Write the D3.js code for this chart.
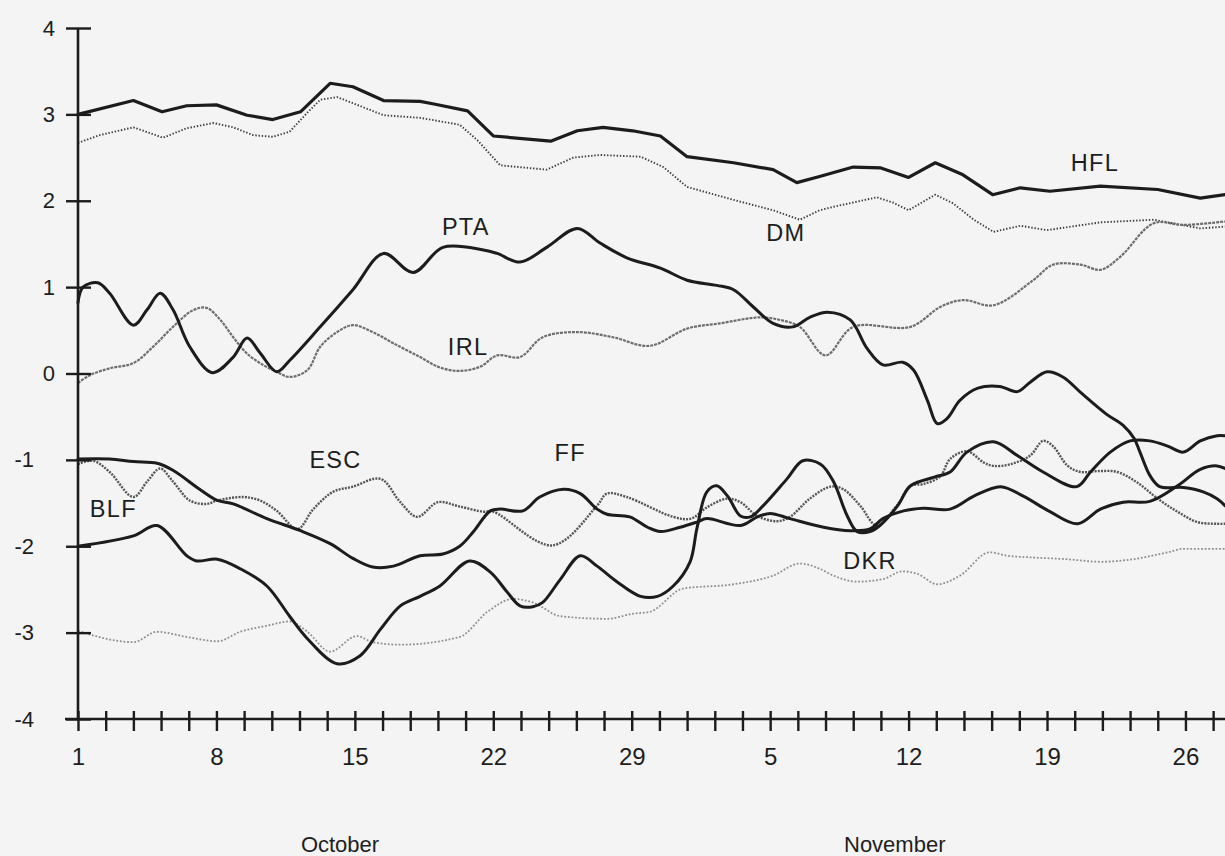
<!DOCTYPE html>
<html>
<head>
<meta charset="utf-8">
<script src="https://cdn.jsdelivr.net/npm/d3@7"></script>
<style>
  html, body { margin: 0; padding: 0; background: #f4f4f4; }
  svg { display: block; }
  text { font-family: "Liberation Sans", Arial, Helvetica, sans-serif; fill: #1e1e1e; }
</style>
</head>
<body>
<svg id="chart" width="1225" height="856"></svg>
<script>
// ---- data (day offset from October 1, index value) ----
const yTicks = [4, 3, 2, 1, 0, -1, -2, -3, -4];
const xLabelDays = [0, 7, 14, 21, 28, 35, 42, 49, 56];
const xLabels = ["1", "8", "15", "22", "29", "5", "12", "19", "26"];
const months = [{ name: "October", day: 13.25 }, { name: "November", day: 41.3 }];

const HFL = [[0,3.0],[2.8,3.16],[4.25,3.03],[5.5,3.10],[7.0,3.11],[8.55,2.99],[9.85,2.94],[11.25,3.03],[12.75,3.36],[13.9,3.32],[15.45,3.16],[17.3,3.15],[18.0,3.12],[19.7,3.04],[21.0,2.75],[23.9,2.69],[25.25,2.81],[26.55,2.85],[28.05,2.81],[29.45,2.75],[30.8,2.51],[33.15,2.44],[35.15,2.36],[36.35,2.21],[37.5,2.28],[39.2,2.39],[40.6,2.38],[42.0,2.27],[43.35,2.44],[44.75,2.30],[46.25,2.07],[47.65,2.15],[49.15,2.11],[51.7,2.17],[54.6,2.13],[56.75,2.03],[58,2.07]];
const DM = [[0,2.67],[1.1,2.76],[2.8,2.85],[4.3,2.73],[5.5,2.84],[6.85,2.90],[7.85,2.85],[8.85,2.76],[9.85,2.74],[10.7,2.80],[11.6,3.02],[12.25,3.17],[13.1,3.20],[13.9,3.13],[15.45,2.99],[17.3,2.96],[19.3,2.88],[20.2,2.70],[21.35,2.41],[23.7,2.36],[25.05,2.50],[26.4,2.53],[28.45,2.51],[29.6,2.39],[30.8,2.16],[33.15,2.01],[35.15,1.89],[36.5,1.78],[37.5,1.89],[38.2,1.93],[40.4,2.04],[41.2,1.98],[42.0,1.89],[43.35,2.07],[44.25,1.97],[45.3,1.78],[46.3,1.64],[47.65,1.71],[49.0,1.66],[51.7,1.75],[54.4,1.78],[56.75,1.68],[58,1.70]];
const PTA = [[0,0.82],[0.25,1.0],[1.0,1.05],[1.6,0.93],[2.8,0.56],[3.5,0.74],[4.15,0.93],[4.8,0.74],[5.65,0.31],[6.8,0.01],[7.85,0.19],[8.55,0.41],[9.2,0.24],[10.05,0.02],[10.7,0.15],[12.25,0.54],[13.9,0.97],[15.45,1.39],[16.95,1.17],[18.45,1.46],[20.5,1.43],[21.2,1.39],[22.35,1.29],[23.7,1.46],[25.25,1.68],[26.4,1.51],[27.75,1.34],[29.45,1.22],[30.8,1.08],[32.3,1.02],[33.15,0.97],[34.15,0.77],[35.15,0.58],[36.15,0.54],[37.0,0.65],[37.9,0.71],[39.05,0.62],[39.9,0.29],[40.7,0.10],[41.7,0.13],[42.25,0.04],[42.95,-0.31],[43.45,-0.58],[43.95,-0.52],[44.6,-0.31],[45.5,-0.17],[46.6,-0.15],[47.5,-0.21],[48.15,-0.10],[49.0,0.02],[49.8,-0.04],[50.8,-0.24],[52.0,-0.47],[52.85,-0.60],[53.4,-0.75],[53.7,-0.91],[54.2,-1.18],[54.7,-1.31],[55.9,-1.32],[56.9,-1.37],[57.6,-1.45],[58,-1.53]];
const IRL = [[0,-0.11],[0.6,-0.02],[1.6,0.06],[2.8,0.12],[3.8,0.31],[4.8,0.54],[5.8,0.73],[6.5,0.76],[7.2,0.62],[7.85,0.42],[8.55,0.23],[9.35,0.10],[10.05,0.02],[10.7,-0.04],[11.6,0.04],[12.25,0.31],[13.1,0.48],[13.9,0.56],[14.9,0.48],[15.95,0.35],[17.3,0.19],[18.3,0.07],[19.3,0.03],[20.35,0.08],[21.2,0.21],[22.35,0.19],[23.5,0.42],[25.25,0.48],[27.05,0.42],[28.9,0.32],[30.8,0.52],[32.45,0.58],[34.5,0.65],[35.5,0.62],[36.5,0.54],[37.8,0.21],[39.2,0.54],[42.1,0.54],[43.6,0.77],[44.75,0.85],[46.3,0.79],[48.3,1.08],[49.3,1.26],[50.7,1.26],[51.7,1.20],[52.7,1.35],[54.4,1.74],[55.9,1.72],[58,1.76]];
const ESC = [[0,-1.05],[0.75,-1.01],[1.6,-1.14],[2.8,-1.43],[3.5,-1.25],[4.15,-1.10],[4.8,-1.25],[5.65,-1.47],[6.5,-1.51],[7.05,-1.47],[8.35,-1.43],[9.2,-1.47],[10.05,-1.59],[11.1,-1.80],[11.9,-1.57],[12.9,-1.37],[13.9,-1.31],[15.3,-1.22],[16.3,-1.49],[17.15,-1.66],[18.2,-1.49],[19.3,-1.54],[20.5,-1.60],[21.0,-1.60],[24.0,-1.99],[26.25,-1.53],[26.75,-1.39],[27.75,-1.43],[30.1,-1.66],[31.0,-1.68],[31.8,-1.55],[32.8,-1.45],[33.5,-1.49],[34.35,-1.65],[35.35,-1.71],[36.0,-1.66],[37.0,-1.45],[38.05,-1.31],[38.7,-1.34],[39.55,-1.53],[40.4,-1.76],[41.4,-1.53],[42.1,-1.30],[42.75,-1.28],[43.6,-1.19],[44.1,-0.99],[44.95,-0.90],[45.8,-1.03],[46.3,-1.07],[47.15,-1.05],[48.15,-0.95],[48.8,-0.78],[49.3,-0.84],[50.05,-1.07],[50.7,-1.14],[51.55,-1.13],[52.55,-1.14],[53.55,-1.26],[54.6,-1.45],[55.6,-1.60],[56.6,-1.72],[57.6,-1.74],[58,-1.74]];
const FF = [[0,-0.99],[1.6,-0.99],[2.8,-1.02],[4.0,-1.04],[4.8,-1.12],[6.15,-1.34],[7.05,-1.47],[7.85,-1.51],[9.55,-1.68],[11.25,-1.82],[12.75,-1.97],[13.9,-2.14],[14.9,-2.24],[15.95,-2.23],[17.3,-2.11],[18.45,-2.09],[19.3,-2.0],[20.0,-1.83],[20.85,-1.59],[21.35,-1.57],[22.5,-1.59],[23.35,-1.43],[24.55,-1.34],[25.4,-1.39],[26.25,-1.57],[26.75,-1.63],[27.9,-1.66],[28.8,-1.78],[29.45,-1.83],[30.45,-1.78],[31.3,-1.72],[31.8,-1.68],[33.5,-1.76],[34.35,-1.66],[35.0,-1.62],[36.0,-1.68],[37.7,-1.78],[39.05,-1.82],[40.05,-1.80],[40.7,-1.68],[41.75,-1.59],[42.75,-1.56],[44.1,-1.57],[45.3,-1.42],[46.65,-1.31],[47.8,-1.42],[49.15,-1.60],[50.55,-1.74],[51.7,-1.57],[52.85,-1.49],[54.2,-1.48],[55.6,-1.30],[56.75,-1.11],[57.6,-1.07],[58,-1.10]];
const BLF = [[0,-2.0],[2.8,-1.88],[4.0,-1.76],[5.5,-2.11],[6.0,-2.17],[7.05,-2.15],[8.2,-2.26],[9.55,-2.46],[10.7,-2.81],[11.6,-3.07],[13.1,-3.36],[14.25,-3.27],[15.3,-2.96],[16.3,-2.69],[17.3,-2.58],[18.3,-2.46],[19.8,-2.17],[20.85,-2.30],[21.7,-2.53],[22.35,-2.69],[23.0,-2.70],[23.5,-2.65],[24.4,-2.38],[25.4,-2.11],[26.25,-2.23],[27.25,-2.41],[28.45,-2.58],[29.3,-2.58],[30.1,-2.46],[30.95,-2.18],[31.3,-1.79],[31.8,-1.37],[32.3,-1.30],[32.85,-1.42],[33.5,-1.65],[34.0,-1.66],[34.65,-1.53],[35.85,-1.22],[36.65,-1.01],[37.55,-1.05],[38.2,-1.25],[38.9,-1.65],[39.4,-1.83],[40.05,-1.83],[40.55,-1.76],[41.45,-1.53],[42.1,-1.30],[43.3,-1.20],[44.1,-1.14],[44.95,-0.91],[46.3,-0.79],[47.5,-0.95],[48.8,-1.14],[50.5,-1.31],[51.2,-1.14],[52.2,-0.91],[53.2,-0.78],[54.2,-0.78],[55.1,-0.84],[55.9,-0.91],[56.75,-0.78],[57.6,-0.72],[58,-0.72]];
const DKR = [[0,-2.98],[2.8,-3.11],[4.0,-2.99],[5.5,-3.05],[7.05,-3.10],[8.2,-2.99],[9.55,-2.92],[10.7,-2.87],[11.6,-2.99],[12.75,-3.22],[14.1,-3.04],[14.9,-3.11],[16.3,-3.14],[19.3,-3.05],[20.7,-2.76],[22.0,-2.61],[23.0,-2.65],[24.4,-2.81],[26.75,-2.84],[28.1,-2.78],[28.9,-2.76],[30.6,-2.49],[33.15,-2.44],[35.15,-2.34],[36.5,-2.20],[37.5,-2.26],[38.2,-2.34],[39.4,-2.41],[40.7,-2.38],[41.7,-2.29],[42.45,-2.32],[43.45,-2.44],[44.6,-2.34],[46.1,-2.07],[47.0,-2.11],[48.3,-2.13],[50.0,-2.15],[51.7,-2.18],[53.35,-2.15],[55.1,-2.07],[55.9,-2.03],[58,-2.03]];

// label anchor points: [day, value]
const seriesLabels = [
  { name: "HFL", at: [50.2, 2.36] },
  { name: "DM", at: [34.8, 1.55] },
  { name: "PTA", at: [18.4, 1.62] },
  { name: "IRL", at: [18.7, 0.22] },
  { name: "ESC", at: [11.7, -1.08] },
  { name: "FF", at: [24.1, -1.0] },
  { name: "BLF", at: [0.6, -1.65] },
  { name: "DKR", at: [38.7, -2.25] }
];

// ---- drawing ----
const svg = d3.select("#chart");
const x = d3.scaleLinear().domain([0, 58]).range([78, 1225]);
const y = d3.scaleLinear().domain([-4, 4]).range([719, 28]);

const smooth = d3.curveCatmullRom.alpha(0.5);
const series = [
  { data: DKR, color: "#8f8f8f", width: 1.8, dash: "1.8 1.8", curve: d3.curveMonotoneX },
  { data: DM, color: "#3c3c3c", width: 1.9, dash: "1.4 1.8", curve: d3.curveLinear },
  { data: IRL, color: "#6e6e6e", width: 2.2, dash: "3 1", curve: smooth },
  { data: ESC, color: "#555555", width: 2.4, dash: "2 1.2", curve: smooth },
  { data: HFL, color: "#1c1c1c", width: 3.2, dash: null, curve: d3.curveLinear },
  { data: PTA, color: "#1c1c1c", width: 3.0, dash: null, curve: smooth },
  { data: FF, color: "#1c1c1c", width: 3.0, dash: null, curve: smooth },
  { data: BLF, color: "#1c1c1c", width: 3.0, dash: null, curve: smooth }
];

const plot = svg.append("g");
series.forEach(s => {
  const line = d3.line().x(d => x(d[0])).y(d => y(d[1])).curve(s.curve);
  plot.append("path")
    .datum(s.data)
    .attr("d", line)
    .attr("fill", "none")
    .attr("stroke", s.color)
    .attr("stroke-width", s.width)
    .attr("stroke-linejoin", "round")
    .attr("stroke-linecap", s.dash ? "butt" : "round")
    .attr("stroke-dasharray", s.dash);
});

// y axis
const yAxis = d3.axisLeft(y).tickValues(yTicks).tickSize(12).tickFormat(d => String(d));
svg.append("g")
  .attr("transform", `translate(${x(0)},0)`)
  .call(yAxis)
  .call(g => g.select(".domain").remove())
  .call(g => g.selectAll(".tick line").attr("x1", 13).attr("stroke", "#1c1c1c").attr("stroke-width", 2.4))
  .call(g => g.selectAll(".tick text")
    .attr("x", d => d < 0 ? -44 : -23)
    .attr("font-size", 22)
    .attr("fill", "#1e1e1e")
    .style("font-family", "'Liberation Sans', Arial, sans-serif"));
svg.append("line")
  .attr("x1", x(0)).attr("x2", x(0))
  .attr("y1", y(4)).attr("y2", y(-4))
  .attr("stroke", "#1c1c1c").attr("stroke-width", 2.6);

// x axis ticks
const xTickVals = d3.range(0, 57.6, 1.4);
const xAxis = d3.axisBottom(x).tickValues(xTickVals).tickSize(12).tickFormat("");
svg.append("g")
  .attr("transform", `translate(0,${y(-4)})`)
  .call(xAxis)
  .call(g => g.select(".domain").remove())
  .call(g => g.selectAll(".tick line").attr("y1", -8).attr("stroke", "#1c1c1c").attr("stroke-width", 2.4));
svg.append("line")
  .attr("x1", 65).attr("x2", 1225)
  .attr("y1", y(-4)).attr("y2", y(-4))
  .attr("stroke", "#1c1c1c").attr("stroke-width", 2.6);

// x labels
const xLabelAxis = d3.axisBottom(x).tickValues(xLabelDays).tickSize(0).tickPadding(29)
  .tickFormat((d, i) => xLabels[i]);
svg.append("g")
  .attr("transform", `translate(0,${y(-4)})`)
  .call(xLabelAxis)
  .call(g => g.select(".domain").remove())
  .call(g => g.selectAll(".tick text")
    .attr("font-size", 24)
    .attr("fill", "#1e1e1e")
    .style("font-family", "'Liberation Sans', Arial, sans-serif"));

// month labels
svg.selectAll(".month")
  .data(months)
  .join("text")
  .attr("class", "month")
  .attr("x", d => x(d.day))
  .attr("y", 852)
  .attr("text-anchor", "middle")
  .attr("font-size", 22)
  .text(d => d.name);

// series labels
svg.selectAll(".slabel")
  .data(seriesLabels)
  .join("text")
  .attr("class", "slabel")
  .attr("x", d => x(d.at[0]))
  .attr("y", d => y(d.at[1]) + 1)
  .attr("font-size", 23.5)
  .attr("letter-spacing", 1.3)
  .text(d => d.name);
</script>
</body>
</html>
